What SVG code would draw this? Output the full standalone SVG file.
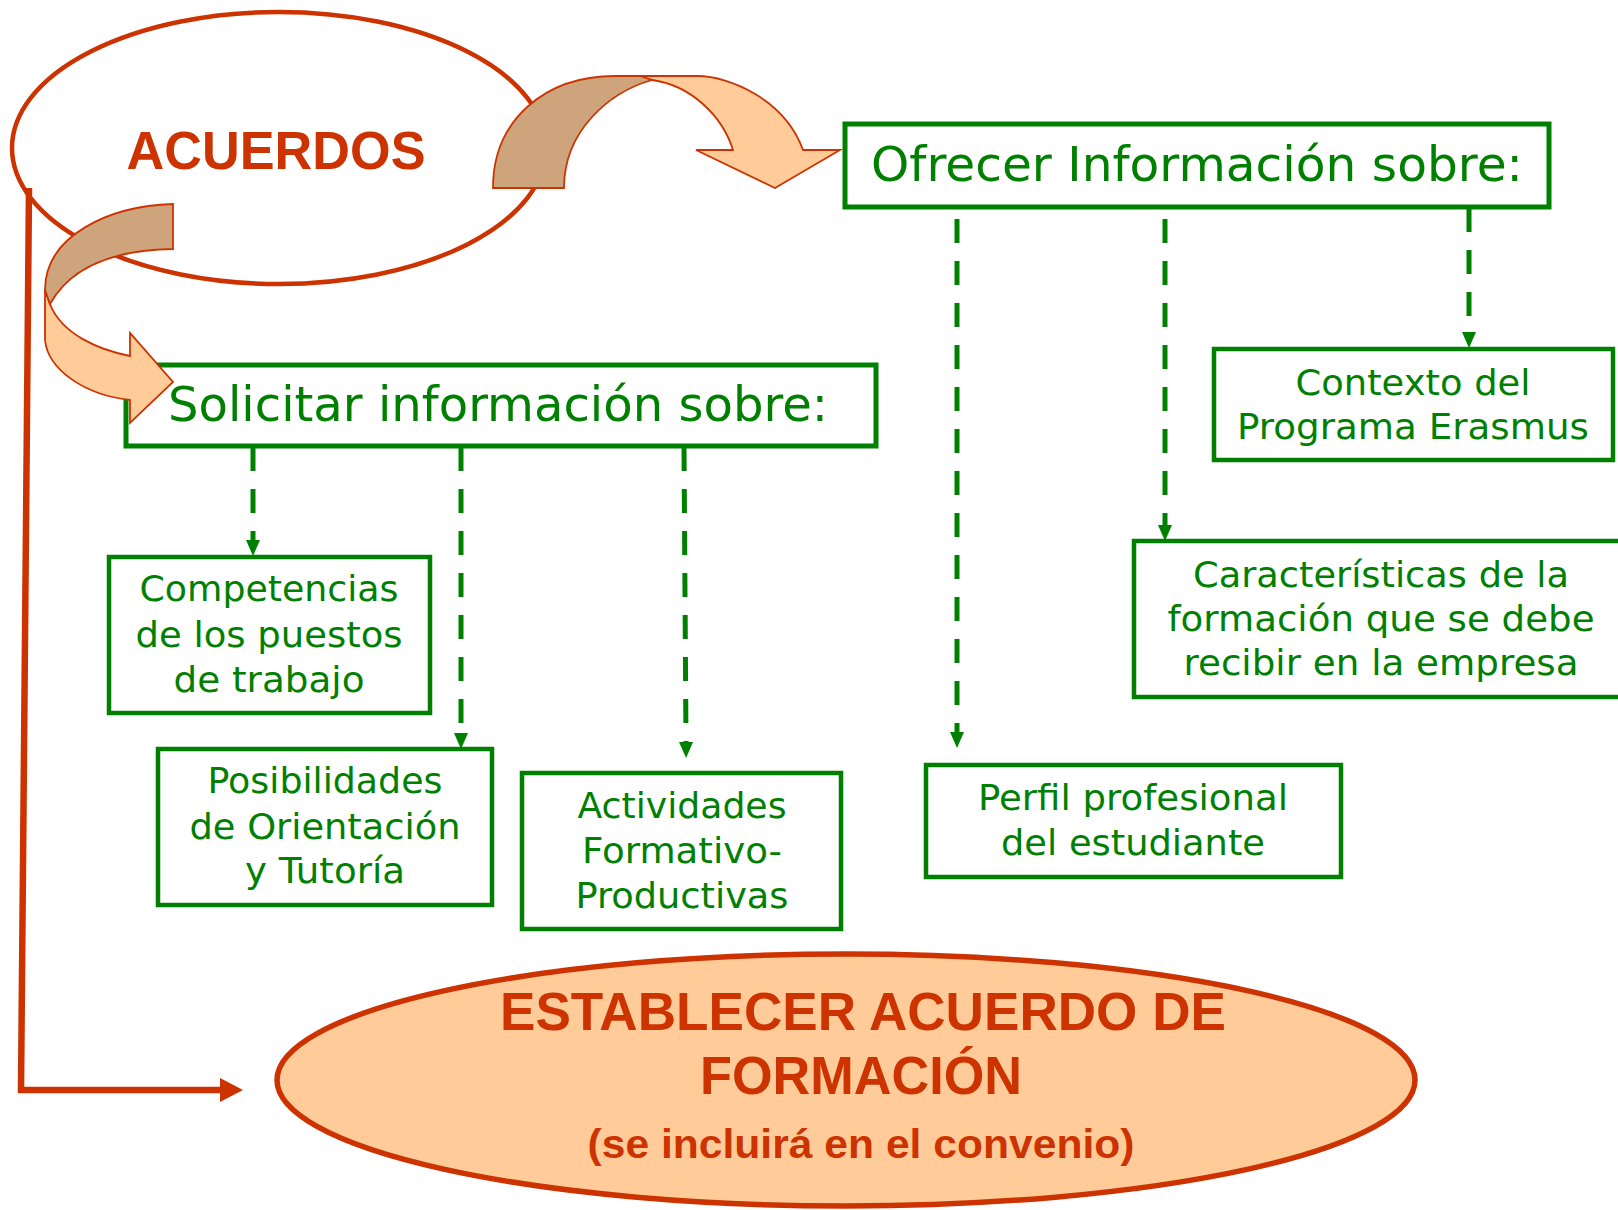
<svg xmlns="http://www.w3.org/2000/svg" width="1618" height="1210" viewBox="0 0 1618 1210">
<defs>
<style>
.box{fill:#fff;stroke:#008000;stroke-width:4.5}
.bigbox{fill:#fff;stroke:#008000;stroke-width:5}
.gt{font-family:"DejaVu Sans",Verdana,sans-serif;font-size:35px;fill:#008000;text-anchor:middle}
.gbig{font-family:"DejaVu Sans",Verdana,sans-serif;font-size:48px;fill:#008000;text-anchor:middle}
.rt{font-family:"Liberation Sans",Arial,sans-serif;font-weight:bold;fill:#CC3300;text-anchor:middle}
.dash{fill:none;stroke:#008000;stroke-width:5;stroke-dasharray:24 18;marker-end:url(#ga)}
.tan{fill:#CDA47B;stroke:#CC3300;stroke-width:1.8;stroke-linejoin:miter}
.light{fill:#FFCC99;stroke:#CC3300;stroke-width:1.8;stroke-linejoin:miter}
</style>
<marker id="ga" markerUnits="userSpaceOnUse" markerWidth="16" markerHeight="14" refX="0" refY="7" orient="auto" viewBox="0 0 16 14">
<path d="M0,0 L16,7 L0,14 Z" fill="#008000"/>
</marker>
</defs>
<rect width="1618" height="1210" fill="#fff"/>

<g id="acuerdos">
<ellipse cx="279" cy="148" rx="267" ry="136" fill="#fff" stroke="#CC3300" stroke-width="4.5"/>
<text class="rt" x="276" y="169" font-size="53" textLength="299" lengthAdjust="spacingAndGlyphs">ACUERDOS</text>
</g>

<g id="connectors">
<path d="M29,188 L21,1090 L221,1090" fill="none" stroke="#CC3300" stroke-width="6.5" stroke-linejoin="miter"/>
<polygon points="220,1078 243,1090 220,1102" fill="#CC3300"/>
<path class="dash" d="M253,447 L253,540"/>
<path class="dash" d="M461,447 L461,733"/>
<path class="dash" d="M684,447 L686,742"/>
<path class="dash" d="M957,219 L957,732"/>
<path class="dash" d="M1165,219 L1165,525"/>
<path class="dash" d="M1469,208 L1469,332"/>
</g>

<g id="arrow-ofrecer">
<path class="light" d="M615,76 L697,76 C730,76 785,100 803,150 L840,150 L775,188 L696,150 L733,150 C722,115 690,85 652,80 Z"/>
<path class="tan" d="M493,188 C493,120 545,76 615,76 L640,76 L652,80 C610,92 564,130 564,188 Z"/>
</g>

<g id="ofrecer">
<rect class="bigbox" x="845" y="124" width="704" height="83"/>
<text class="gbig" x="1197" y="181" textLength="652" lengthAdjust="spacingAndGlyphs">Ofrecer Información sobre:</text>
</g>

<g id="solicitar">
<rect class="bigbox" x="126" y="365" width="750" height="81"/>
<text class="gbig" x="498" y="421" textLength="660" lengthAdjust="spacingAndGlyphs">Solicitar información sobre:</text>
</g>

<g id="arrow-solicitar">
<path class="light" d="M45,290 L45,340 C48,370 85,395 130,400 L130,423 L173,382 L130,333 L130,356 C100,350 62,335 50,304 Z"/>
<path class="tan" d="M173,204 C110,206 45,235 45,290 L50,304 C70,268 110,250 173,249 Z"/>
</g>

<g id="competencias">
<rect class="box" x="109" y="557" width="321" height="156"/>
<text class="gt" x="269" y="601" textLength="259" lengthAdjust="spacingAndGlyphs">Competencias</text>
<text class="gt" x="269" y="647" textLength="267" lengthAdjust="spacingAndGlyphs">de los puestos</text>
<text class="gt" x="269" y="692" textLength="191" lengthAdjust="spacingAndGlyphs">de trabajo</text>
</g>

<g id="posibilidades">
<rect class="box" x="158" y="749" width="334" height="156"/>
<text class="gt" x="325" y="793" textLength="235" lengthAdjust="spacingAndGlyphs">Posibilidades</text>
<text class="gt" x="325" y="839" textLength="271" lengthAdjust="spacingAndGlyphs">de Orientación</text>
<text class="gt" x="325" y="883" textLength="160" lengthAdjust="spacingAndGlyphs">y Tutoría</text>
</g>

<g id="actividades">
<rect class="box" x="522" y="773" width="319" height="156"/>
<text class="gt" x="682" y="818" textLength="209" lengthAdjust="spacingAndGlyphs">Actividades</text>
<text class="gt" x="682" y="863" textLength="200" lengthAdjust="spacingAndGlyphs">Formativo-</text>
<text class="gt" x="682" y="908" textLength="213" lengthAdjust="spacingAndGlyphs">Productivas</text>
</g>

<g id="perfil">
<rect class="box" x="926" y="765" width="415" height="112"/>
<text class="gt" x="1133" y="810" textLength="310" lengthAdjust="spacingAndGlyphs">Perfil profesional</text>
<text class="gt" x="1133" y="855" textLength="264" lengthAdjust="spacingAndGlyphs">del estudiante</text>
</g>

<g id="contexto">
<rect class="box" x="1214" y="349" width="399" height="111"/>
<text class="gt" x="1413" y="395" textLength="235" lengthAdjust="spacingAndGlyphs">Contexto del</text>
<text class="gt" x="1413" y="439" textLength="352" lengthAdjust="spacingAndGlyphs">Programa Erasmus</text>
</g>

<g id="caracteristicas">
<rect class="box" x="1134" y="541" width="500" height="156"/>
<text class="gt" x="1381" y="587" textLength="376" lengthAdjust="spacingAndGlyphs">Características de la</text>
<text class="gt" x="1381" y="631" textLength="427" lengthAdjust="spacingAndGlyphs">formación que se debe</text>
<text class="gt" x="1381" y="675" textLength="395" lengthAdjust="spacingAndGlyphs">recibir en la empresa</text>
</g>

<g id="establecer">
<ellipse cx="846" cy="1080" rx="569" ry="126" fill="#FFCC99" stroke="#CC3300" stroke-width="5.5"/>
<text class="rt" x="863" y="1030" font-size="53" textLength="726" lengthAdjust="spacingAndGlyphs">ESTABLECER ACUERDO DE</text>
<text class="rt" x="861" y="1094" font-size="53" textLength="322" lengthAdjust="spacingAndGlyphs">FORMACIÓN</text>
<text class="rt" x="861" y="1158" font-size="41" textLength="547" lengthAdjust="spacingAndGlyphs">(se incluirá en el convenio)</text>
</g>
</svg>
